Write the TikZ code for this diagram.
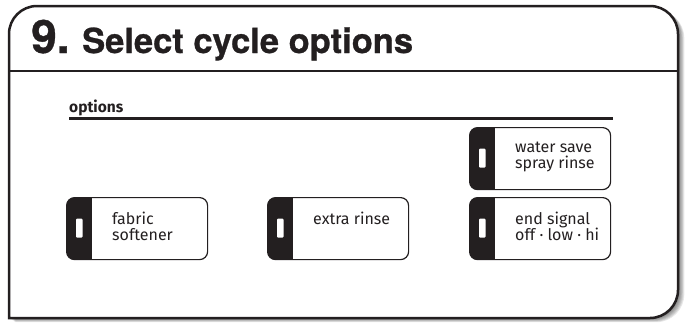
\documentclass[tikz,border=0pt]{standalone}
\usepackage{fontspec}
\newfontfamily\headfont[FakeBold=0.8]{TeX Gyre Heros}
\newfontfamily\btnfont{Fira Sans}
\definecolor{ink}{HTML}{231F20}
\tikzset{
  optbtn/.style={draw=ink, line width=1.2pt, rounded corners=8pt, fill=white,
    minimum width=141pt, minimum height=62pt, anchor=north west, inner sep=0pt,
    path picture={
      \fill[ink, sharp corners] (path picture bounding box.north west) rectangle ([xshift=25pt]path picture bounding box.south west);
      \fill[white, rounded corners=1pt] ([xshift=9.5pt,yshift=-21pt]path picture bounding box.north west) rectangle ([xshift=16pt,yshift=-40pt]path picture bounding box.north west);
    }},
  optlbl/.style={anchor=north west, inner sep=0pt, align=left, text=ink,
    font=\btnfont\fontsize{16}{16}\selectfont},
}
\begin{document}
\begin{tikzpicture}[x=1pt,y=-1pt]
    \useasboundingbox (0,0) rectangle (686,322);

    % Shadow
    \foreach \d in {1,...,7}
        \fill[black, opacity=0.09, shift={(\d*0.9,\d*0.6)}]
            (9,318) [rounded corners=28pt] -- (9,6) -- (678,6) -- (678,318) [sharp corners] -- cycle;

    % Frame
    \draw[ink, line width=2.5pt, fill=white]
        (9,318) [rounded corners=28pt] -- (9,6) -- (678,6) -- (678,318) [sharp corners] -- cycle;
    \draw[ink, line width=2.5pt] (9,71) -- (678,71);

    % Heading
    \node[anchor=base west, inner sep=0pt, text=ink, font=\headfont\bfseries\fontsize{46}{46}\selectfont] (num) at (31,53) {9.};
    \node[anchor=base west, inner sep=0pt, text=ink, font=\headfont\bfseries\fontsize{34.5}{34.5}\selectfont] (title) at (82,53) {Select cycle options};

    % Options rule
    \node[anchor=base west, inner sep=0pt, text=ink, font=\btnfont\bfseries\fontsize{15.5}{15.5}\selectfont] (opt) at (69,112) {options};
    \draw[ink, line width=3pt] (69,118) -- (613,118);

    % Buttons
    \foreach \n/\x/\y/\t in {fab/66/197/{fabric\\softener}, rinse/267/197/{extra rinse},
                             save/469/127/{water save\\spray rinse}, sig/469/197/{end signal\\off · low · hi}} {
        \node[optbtn] (\n) at (\x,\y) {};
        \node[optlbl] (\n-lbl) at ([shift={(46pt,-15pt)}]\n.north west) {\t};
    }
\end{tikzpicture}
\end{document}
